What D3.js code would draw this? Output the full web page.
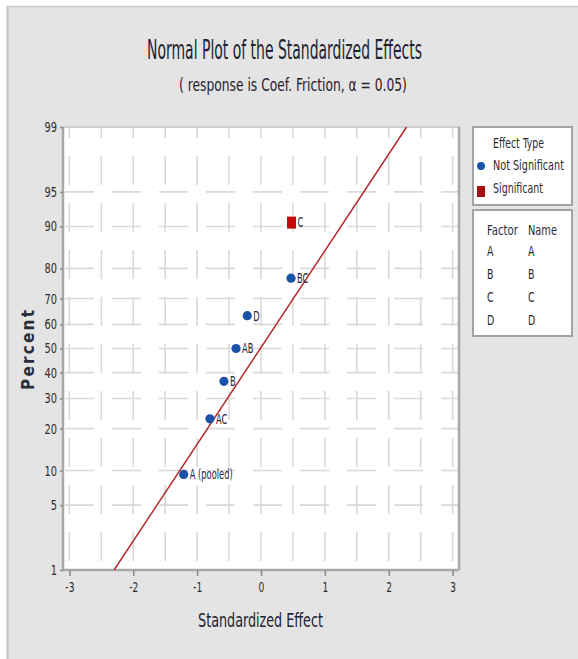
<!DOCTYPE html>
<html>
<head>
<meta charset="utf-8">
<script src="https://cdn.jsdelivr.net/npm/d3@7/dist/d3.min.js"></script>
<style>
  html, body { margin: 0; padding: 0; background: #fff; }
  svg { display: block; }
  text { font-family: "Liberation Sans Narrow", "DejaVu Sans Condensed", "Liberation Sans", sans-serif; font-stretch: condensed; }
</style>
</head>
<body>
<svg id="chart" width="578" height="659"></svg>
<script>
// Standardized effects (normal probability plot)
const effectNames = ["A (pooled)", "AC", "B", "AB", "D", "BC", "C"];
const effectValues = [-1.21, -0.80, -0.58, -0.39, -0.215, 0.47, 0.478];
const effectPercents = [9.3, 23.0, 36.5, 50.0, 63.5, 77.0, 90.7];
const effectSignificant = [false, false, false, false, false, false, true];

// Reference line end points (effect, percent)
const fitEffects = [-2.30, 2.28];
const fitPercents = [1, 99];

// Axis ticks
const percentTicks = [1, 5, 10, 20, 30, 40, 50, 60, 70, 80, 90, 95, 99];
const effectTicks = [-3, -2, -1, 0, 1, 2, 3];
const effectGrid = [-3, -2.5, -2, -1.5, -1, -0.5, 0, 0.5, 1, 1.5, 2, 2.5, 3];

// Legend content
const effectTypes = ["Not Significant", "Significant"];
const factorCodes = ["A", "B", "C", "D"];
const factorNames = ["A", "B", "C", "D"];

const blue = "#1a52a8", red = "#c40c0c", lineRed = "#b52a2e";

// inverse standard normal CDF (Acklam) used for the probability axis
function probit(p) {
  const a = [-3.969683028665376e+01, 2.209460984245205e+02, -2.759285104469687e+02, 1.383577518672690e+02, -3.066479806614716e+01, 2.506628277459239e+00];
  const b = [-5.447609879822406e+01, 1.615858368580409e+02, -1.556989798598866e+02, 6.680131188771972e+01, -1.328068155288572e+01];
  const c = [-7.784894002430293e-03, -3.223964580411365e-01, -2.400758277161838e+00, -2.549732539343734e+00, 4.374664141464968e+00, 2.938163982698783e+00];
  const d = [7.784695709041462e-03, 3.224671290700398e-01, 2.445134137142996e+00, 3.754408661907416e+00];
  const pl = 0.02425;
  let q, r;
  if (p < pl) {
    q = Math.sqrt(-2 * Math.log(p));
    return (((((c[0]*q+c[1])*q+c[2])*q+c[3])*q+c[4])*q+c[5]) / ((((d[0]*q+d[1])*q+d[2])*q+d[3])*q+1);
  } else if (p <= 1 - pl) {
    q = p - 0.5; r = q * q;
    return (((((a[0]*r+a[1])*r+a[2])*r+a[3])*r+a[4])*r+a[5])*q / (((((b[0]*r+b[1])*r+b[2])*r+b[3])*r+b[4])*r+1);
  } else {
    q = Math.sqrt(-2 * Math.log(1 - p));
    return -(((((c[0]*q+c[1])*q+c[2])*q+c[3])*q+c[4])*q+c[5]) / ((((d[0]*q+d[1])*q+d[2])*q+d[3])*q+1);
  }
}

// squeeze text horizontally to a narrow face
function condense(sel, factor) {
  sel.each(function () {
    const w = this.getComputedTextLength();
    if (w > 0) d3.select(this).attr("textLength", w * factor).attr("lengthAdjust", "spacingAndGlyphs");
  });
}

// text squeezed by a horizontal scale so that it spans a given width
function scaledText(parent, px, py, width, size, str, anchor = "middle", fill = "#1f2230") {
  const g = parent.append("g");
  const t = g.append("text").attr("text-anchor", anchor).attr("font-size", size)
    .attr("fill", fill).text(str);
  const w = t.node().getComputedTextLength();
  g.attr("transform", `translate(${px},${py}) scale(${width / w},1)`);
  return t;
}

const svg = d3.select("#chart");
const plot = { left: 63, right: 459, top: 127, bottom: 570 };

const x = d3.scaleLinear().domain([-3.1, 3.1]).range([plot.left, plot.right]);
const z = d3.scaleLinear().domain([probit(0.01), probit(0.99)]).range([plot.bottom, plot.top]);
const y = pct => z(probit(pct / 100));

// panel background
svg.append("rect").attr("width", 578).attr("height", 659).attr("fill", "#fff");
svg.append("rect").attr("x", 7).attr("y", 6).attr("width", 571).attr("height", 653).attr("fill", "#e4e4e4");
svg.append("line").attr("x1", 7.5).attr("x2", 7.5).attr("y1", 6).attr("y2", 659).attr("stroke", "#c4c4c4").attr("stroke-width", 2);
svg.append("line").attr("x1", 7).attr("x2", 578).attr("y1", 6.5).attr("y2", 6.5).attr("stroke", "#cacaca").attr("stroke-width", 1.5);

// plot area
svg.append("rect")
  .attr("x", plot.left).attr("y", plot.top)
  .attr("width", plot.right - plot.left).attr("height", plot.bottom - plot.top)
  .attr("fill", "#fff");

// grid
const grid = svg.append("g").attr("stroke", "#d9d9d9").attr("stroke-width", 1.6);
grid.selectAll("line.v").data(effectGrid).join("line")
  .attr("class", "v")
  .attr("x1", d => x(d)).attr("x2", d => x(d))
  .attr("y1", plot.top).attr("y2", plot.bottom)
  .attr("stroke-dasharray", "29,18").attr("stroke-dashoffset", 18);
grid.selectAll("line.h").data(percentTicks.filter(p => p > 1 && p < 99)).join("line")
  .attr("class", "h")
  .attr("x1", plot.left).attr("x2", plot.right)
  .attr("y1", d => y(d)).attr("y2", d => y(d))
  .attr("stroke-dasharray", "29,18").attr("stroke-dashoffset", 45);

// frame
svg.append("line").attr("x1", plot.left).attr("x2", plot.right).attr("y1", plot.top).attr("y2", plot.top)
  .attr("stroke", "#cfcfcf").attr("stroke-width", 2);
svg.append("line").attr("x1", plot.right).attr("x2", plot.right).attr("y1", plot.top).attr("y2", plot.bottom)
  .attr("stroke", "#a8a8a8").attr("stroke-width", 2.5);
svg.append("line").attr("x1", plot.left).attr("x2", plot.left).attr("y1", plot.top).attr("y2", plot.bottom)
  .attr("stroke", "#a8a8a8").attr("stroke-width", 2.5);
svg.append("line").attr("x1", plot.left).attr("x2", plot.right).attr("y1", plot.bottom).attr("y2", plot.bottom)
  .attr("stroke", "#a8a8a8").attr("stroke-width", 2.5);

// axes
const xAxis = d3.axisBottom(x).tickValues(effectTicks).tickSize(6).tickPadding(4).tickFormat(d => String(d));
const gx = svg.append("g").attr("transform", `translate(0,${plot.bottom})`).call(xAxis);
gx.select(".domain").remove();
gx.selectAll(".tick line").attr("stroke", "#8a8a8a").attr("stroke-width", 1.5);
gx.selectAll(".tick text").attr("fill", "#2b2b33").attr("font-size", 14).attr("font-family", null).attr("dy", "0.85em")
  .call(condense, 0.72);

const yAxis = d3.axisLeft(z).tickValues(percentTicks.map(p => probit(p / 100)))
  .tickSize(3).tickPadding(3)
  .tickFormat((d, i) => percentTicks[i]);
const gy = svg.append("g").attr("transform", `translate(${plot.left},0)`).call(yAxis);
gy.select(".domain").remove();
gy.selectAll(".tick line").attr("stroke", "#8a8a8a").attr("stroke-width", 1.5);
gy.selectAll(".tick text").attr("fill", "#2b2b33").attr("font-size", 14).attr("font-family", null)
  .call(condense, 0.78);

// fitted reference line
svg.append("path")
  .datum(fitEffects.map((e, i) => [e, fitPercents[i]]))
  .attr("d", d3.line().x(d => x(d[0])).y(d => y(d[1])))
  .attr("fill", "none").attr("stroke", lineRed).attr("stroke-width", 1.5);

// effects
const pts = effectValues.map((v, i) => ({ name: effectNames[i], v, p: effectPercents[i], sig: effectSignificant[i] }));
const marks = svg.append("g");
marks.selectAll("circle").data(pts.filter(d => !d.sig)).join("circle")
  .attr("cx", d => x(d.v)).attr("cy", d => y(d.p)).attr("r", 4.6).attr("fill", blue);
marks.selectAll("rect").data(pts.filter(d => d.sig)).join("rect")
  .attr("x", d => x(d.v) - 4.5).attr("y", d => y(d.p) - 6).attr("width", 9).attr("height", 12).attr("fill", red);
marks.selectAll("text").data(pts).join("text")
  .attr("x", d => x(d.v) + 6).attr("y", d => y(d.p)).attr("dy", "0.35em")
  .attr("font-size", 14).attr("fill", "#1e2540")
  .text(d => d.name)
  .call(condense, 0.66);

// titles
scaledText(svg, 284.5, 59, 275, 26, "Normal Plot of the Standardized Effects");
scaledText(svg, 293, 91, 228, 18, "( response is Coef. Friction, α = 0.05)");
scaledText(svg, 260.5, 627, 125, 19, "Standardized Effect");
svg.append("text").attr("transform", "translate(34,350) rotate(-90)").attr("text-anchor", "middle")
  .attr("font-size", 17).attr("font-weight", "bold").attr("fill", "#2a2d3a")
  .attr("textLength", 80).attr("lengthAdjust", "spacing")
  .text("Percent");

// legend: effect type
const lg1 = svg.append("g");
lg1.append("rect").attr("x", 473).attr("y", 127).attr("width", 99).attr("height", 78)
  .attr("fill", "#fff").attr("stroke", "#a3a3a3").attr("stroke-width", 2);
scaledText(lg1, 493, 148, 51, 14, "Effect Type", "start", "#2b2b33");
lg1.append("circle").attr("cx", 481).attr("cy", 166).attr("r", 4).attr("fill", blue);
lg1.append("rect").attr("x", 477).attr("y", 186).attr("width", 8).attr("height", 11).attr("fill", "#a81010");
effectTypes.forEach((d, i) => scaledText(lg1, 493, 170 + i * 23, i === 0 ? 71 : 50, 14, d, "start", "#2b2b33"));

// legend: factor names
const lg2 = svg.append("g");
lg2.append("rect").attr("x", 473).attr("y", 210).attr("width", 99).attr("height", 126)
  .attr("fill", "#fff").attr("stroke", "#a3a3a3").attr("stroke-width", 2);
scaledText(lg2, 487, 235, 31, 14, "Factor", "start", "#2b2b33");
scaledText(lg2, 528, 235, 29, 14, "Name", "start", "#2b2b33");
lg2.selectAll("text.code").data(factorCodes).join("text")
  .attr("class", "code")
  .attr("x", 487).attr("y", (d, i) => 256 + i * 23)
  .attr("font-size", 14).attr("fill", "#2b2b33").text(d => d)
  .call(condense, 0.75);
lg2.selectAll("text.fname").data(factorNames).join("text")
  .attr("class", "fname")
  .attr("x", 528).attr("y", (d, i) => 256 + i * 23)
  .attr("font-size", 14).attr("fill", "#2b2b33").text(d => d)
  .call(condense, 0.75);
</script>
</body>
</html>
